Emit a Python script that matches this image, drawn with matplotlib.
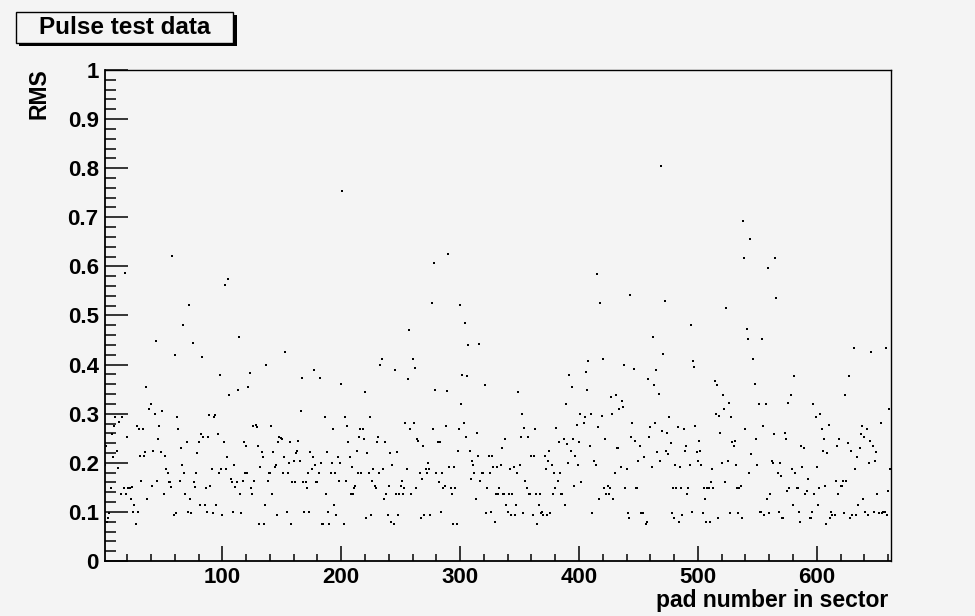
import numpy as np
import matplotlib
matplotlib.use("Agg")
import matplotlib.pyplot as plt
from matplotlib.ticker import MultipleLocator, FuncFormatter
from matplotlib.patches import Rectangle

nan = np.nan

# RMS of the pulse per pad, one entry per pad number (nan = no entry)
rms_001_100 = [
    .196, .234, .079, .087, .098, .149, .259, .212, .274, .293,
    .224, .189, .283, nan, .137, .293, .149, .586, .137, .252,
    .149, .149, .127, .150, .100, .115, .075, .275, .100, .269,
    .213, .163, .269, .213, .222, .355, .127, .310, nan, .320,
    .153, .224, .299, .449, .163, .249, .275, .221, .305, nan,
    .137, .213, .188, .179, .160, .160, .150, .622, .094, .420,
    .097, .293, .269, .163, .231, .196, .481, .179, .137, .242,
    .100, .521, .127, .097, .445, .160, .150, .179, .219, .242,
    .115, .259, .416, .252, .115, .149, .100, .253, .298, .153,
    .188, .097, .293, .298, .115, .259, .179, .379, .188, .094,
]
rms_101_200 = [
    .242, .562, .188, .212, .574, .339, .166, .160, .100, .196,
    .150, .160, .348, .456, .137, .097, .163, .242, .179, .234,
    .179, .354, .382, .149, .137, .274, .163, .277, .272, .234,
    .075, .191, .221, .212, .075, .115, .399, .163, .179, .179,
    .274, .137, .221, .191, .196, .094, .242, .253, .250, .249,
    .179, .212, .426, .100, .179, .200, .242, .075, .160, .204,
    .160, .219, .224, .245, .204, .305, .373, .160, .100, .160,
    .149, .179, .100, .221, .188, .212, .390, .196, .160, .160,
    .179, .373, .200, .075, .075, .293, .137, .221, .100, .075,
    .179, .200, .269, .115, .179, .094, .212, .163, .200, .360,
]
rms_201_300 = [
    .754, .075, .293, .163, .275, .242, .212, .137, .191, .137,
    .149, .153, .224, .179, .252, .269, .179, .269, .249, .344,
    .087, .219, .179, .293, .094, .163, .188, .153, .149, .242,
    .252, .179, .399, .412, .188, .127, .242, .137, .094, .153,
    .219, .079, .196, .075, .389, .137, .221, .094, .137, .153,
    .163, .137, .149, .282, .188, .371, .471, .269, .137, .411,
    .282, .394, .149, .249, .245, .179, .087, .166, .234, .094,
    .188, .179, .200, .188, .094, .525, .269, .606, .348, .179,
    .242, .160, .242, .100, .179, .149, .153, .274, .346, .625,
    .191, .149, .137, .075, .191, .149, .075, .224, .269, .521,
]
rms_301_400 = [
    .320, .378, .282, .485, .252, .377, .439, .224, .166, .204,
    .196, .179, .127, .260, .213, .441, .163, .179, .179, nan,
    .358, .097, .149, .213, .179, .100, .213, .191, .079, .137,
    .191, .137, .149, .196, .231, .137, .137, .249, .115, .100,
    .137, .188, .094, .137, .191, .094, .115, .179, .344, .196,
    .252, .299, .097, .271, .163, .149, .252, .137, .137, .213,
    .094, .213, .269, .137, .075, .115, .137, .097, .100, .094,
    .213, .188, .094, .204, .224, .097, .196, .137, .179, .149,
    .271, .163, .242, .179, .137, .137, .249, .115, .320, .239,
    .200, .378, .224, .354, .249, .153, .213, .276, .196, .242,
]
rms_401_500 = [
    .299, .160, nan, .282, .293, .384, .348, .407, .234, .299,
    .097, nan, .204, .196, .585, .272, .127, .525, .295, .411,
    .149, .249, .137, .153, .137, .149, .335, .299, .127, .179,
    .339, .231, .231, .309, .191, .325, .314, .399, .149, .188,
    .097, .087, .542, .253, .282, .392, .245, .149, .149, .204,
    .234, .097, .097, .097, .212, .075, .079, .371, .252, .272,
    .191, .456, .358, .282, .388, .221, .341, .204, .805, .265,
    .422, .530, .224, .260, .217, .293, .240, .097, .149, .087,
    .196, .149, .272, .079, .191, .149, .094, .269, .224, .234,
    .137, .149, .196, .481, .100, .407, .396, .274, .221, .204,
]
rms_501_600 = [
    .244, .224, .196, .097, .149, .127, .079, .149, .149, .079,
    .160, .188, .149, .367, .299, .358, .087, .295, .260, .200,
    .339, .309, .160, .515, .204, .322, .097, .293, .242, .234,
    .244, .196, .149, .097, .149, .153, .087, .692, .618, .269,
    .473, .453, .179, .655, .217, .412, nan, .360, .249, .196,
    .320, .100, .100, .453, .274, .094, .320, .127, .597, .097,
    .137, .204, .200, .259, .618, .536, .179, .100, .200, .174,
    .087, .087, .260, .249, .142, .322, .149, .339, .188, .115,
    .377, .179, .149, .149, .100, .079, .234, .191, .231, .137,
    nan, .142, .166, .087, .087, .100, .320, .137, .293, .191,
]
rms_601_662 = [
    .115, .149, .299, .269, .224, .249, .153, .075, .219, .277,
    .087, .100, .094, nan, .094, .163, .234, .137, .249, .153,
    .153, .163, .097, .339, .163, .240, .377, .087, .224, .094,
    .433, .188, .094, .212, .115, .231, .259, .274, .127, .252,
    .100, .269, .094, .200, .245, .426, .234, .100, .204, .221,
    .137, .097, nan, .282, .097, .100, .100, .433, .094, .142,
    .310, .188,
]

rms = np.array(rms_001_100 + rms_101_200 + rms_201_300 + rms_301_400
               + rms_401_500 + rms_501_600 + rms_601_662)
pad = np.arange(1, len(rms) + 1)

title = "Pulse test data"
x_title = "pad number in sector"
y_title = "RMS"

W, H = 975, 616
bg = "#f4f4f4"

plt.rcParams["font.family"] = ["Liberation Sans", "DejaVu Sans"]
plt.rcParams["font.weight"] = "bold"


def fx(px):
    return px / W


def fy(py):
    return 1 - py / H


fig = plt.figure(figsize=(W / 100, H / 100), dpi=100, facecolor=bg)
ax = fig.add_axes([fx(105), fy(561), (890.7 - 105) / W, (561 - 70) / H], facecolor=bg)

ax.plot(pad, rms, ls="none", marker="s", ms=1.5, mew=0, color="black")

ax.set_xlim(1.3, 662.2)
ax.set_ylim(0, 1)

ax.xaxis.set_major_locator(MultipleLocator(100))
ax.xaxis.set_minor_locator(MultipleLocator(20))
ax.yaxis.set_major_locator(MultipleLocator(0.1))
ax.yaxis.set_minor_locator(MultipleLocator(0.02))
ax.yaxis.set_major_formatter(FuncFormatter(lambda v, p: "%g" % round(v, 2)))

ax.tick_params(axis="x", which="major", direction="in", length=10.8, width=1.1,
               labelsize=16, pad=4, top=False)
ax.tick_params(axis="x", which="minor", direction="in", length=5.4, width=1.1, top=False)
ax.tick_params(axis="y", which="major", direction="in", length=16.5, width=1.1,
               labelsize=16, pad=4.5, right=False)
ax.tick_params(axis="y", which="minor", direction="in", length=8, width=1.1, right=False)

for side in ["left", "bottom"]:
    ax.spines[side].set_linewidth(1.3)
for side in ["top", "right"]:
    ax.spines[side].set_linewidth(1.0)

# axis titles, right/top aligned at the axis ends
fig.text(fx(888), fy(607), x_title, ha="right", va="baseline", fontsize=16.5)
fig.text(fx(39), fy(68), y_title, rotation=90, ha="center", va="top", fontsize=16.5)

# title box with drop shadow
fig.add_artist(Rectangle((fx(19), fy(46)), 218 / W, 31 / H, transform=fig.transFigure,
                         facecolor="black", edgecolor="none"))
fig.add_artist(Rectangle((fx(15.7), fy(42.7)), 217.6 / W, 30.7 / H, transform=fig.transFigure,
                         facecolor=bg, edgecolor="black", lw=1.0))
fig.text(fx(124.5), fy(27.5), title, ha="center", va="center", fontsize=17.5)

fig.savefig("out.png", dpi=100, facecolor=bg)
